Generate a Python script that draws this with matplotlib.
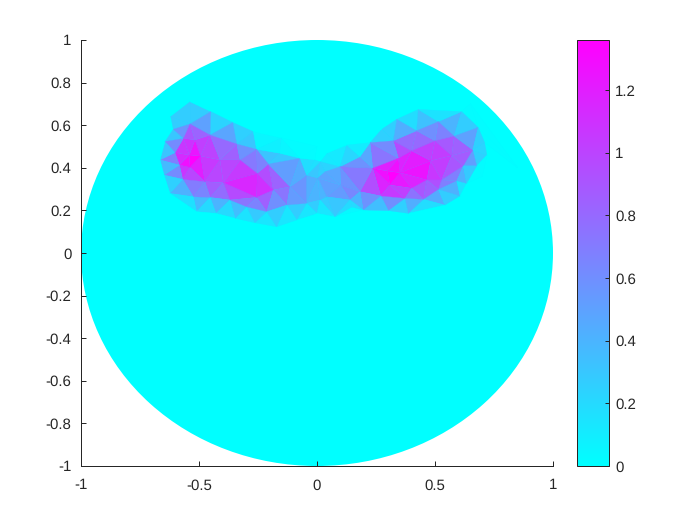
"""Flat shaded triangle mesh on the unit disk with a colorbar."""

import matplotlib
matplotlib.use("Agg")
import matplotlib.pyplot as plt
import matplotlib.tri as mtri
from matplotlib.patches import Circle

plt.rcParams["font.family"] = ["Liberation Sans", "DejaVu Sans"]
plt.rcParams["axes.unicode_minus"] = False
plt.rcParams["text.hinting"] = "none"

TEXT = "#262626"

# mesh nodes: (x, y, value)
left_x = [-0.538, -0.450, -0.357, -0.270, -0.538, -0.609, -0.644, -0.665, -0.648, -0.623,
          -0.602, -0.566, -0.517, -0.493, -0.538, -0.541, -0.569, -0.583, -0.453, -0.340,
          -0.256, -0.157, -0.072, 0.013, -0.206, -0.253, -0.397, -0.475, -0.369, -0.256,
          -0.114, -0.185, -0.298, -0.524, -0.453, -0.428, -0.347, -0.263, -0.213, -0.171,
          -0.086, -0.128, -0.017, -0.044, 0.013, 0.004, -0.044, -0.510, -0.411, -0.326]
left_y = [0.710, 0.664, 0.613, 0.570, 0.606, 0.581, 0.523, 0.437, 0.366, 0.280,
          0.471, 0.538, 0.531, 0.455, 0.402, 0.460, 0.346, 0.413, 0.554, 0.512,
          0.487, 0.468, 0.445, 0.429, 0.418, 0.374, 0.330, 0.335, 0.249, 0.261,
          0.311, 0.296, 0.217, 0.264, 0.261, 0.186, 0.163, 0.142, 0.194, 0.123,
          0.155, 0.225, 0.178, 0.233, 0.249, 0.352, 0.366, 0.194, 0.437, 0.437]
left_v = [0.00, 0.00, 0.00, 0.00, 0.80, 0.00, 0.00, 0.00, 0.00, 0.00,
          0.95, 0.90, 1.00, 1.36, 1.36, 1.36, 0.75, 1.10, 0.70, 0.75,
          0.15, 0.10, 0.05, 0.00, 0.70, 1.15, 1.15, 0.85, 0.60, 1.15,
          0.80, 1.00, 0.45, 0.50, 0.60, 0.00, 0.00, 0.00, 0.40, 0.00,
          0.00, 0.40, 0.00, 0.40, 0.40, 0.40, 0.50, 0.00, 0.95, 0.85]

right_x = [0.429, 0.338, 0.514, 0.613, 0.683, 0.660, 0.677, 0.634, 0.422, 0.323,
           0.500, 0.581, 0.401, 0.482, 0.571, 0.620, 0.345, 0.236, 0.352, 0.298,
           0.270, 0.309, 0.401, 0.465, 0.451, 0.514, 0.528, 0.592, 0.542, 0.606,
           0.100, 0.182, 0.225, 0.274, 0.126, 0.097, 0.041, -0.008, 0.034, 0.041,
           0.140, 0.196, 0.182, 0.302, 0.387, 0.373, 0.076, 0.000, 0.147]
right_y = [0.674, 0.628, 0.617, 0.664, 0.590, 0.484, 0.409, 0.327, 0.574, 0.527,
           0.527, 0.549, 0.480, 0.433, 0.457, 0.409, 0.445, 0.398, 0.377, 0.385,
           0.268, 0.319, 0.304, 0.343, 0.252, 0.299, 0.343, 0.339, 0.225, 0.268,
           0.319, 0.452, 0.518, 0.581, 0.507, 0.405, 0.468, 0.437, 0.382, 0.264,
           0.249, 0.202, 0.288, 0.199, 0.186, 0.257, 0.170, 0.186, 0.216]
right_v = [0.00, 0.00, 0.45, 0.00, 0.05, 0.70, 0.05, 0.00, 0.55, 0.75,
           0.80, 0.75, 1.05, 1.20, 1.10, 0.80, 1.10, 1.10, 1.36, 1.36,
           1.05, 1.36, 0.95, 1.20, 0.55, 0.80, 0.80, 0.45, 0.00, 0.00,
           0.70, 0.30, 0.00, 0.00, 0.00, 0.35, 0.00, 0.00, 0.35, 0.40,
           0.50, 0.00, 0.70, 0.00, 0.00, 0.75, 0.00, 0.00, 0.10]

# zero valued nodes around the two lobes
ring_x = [-0.65, -0.40, 0.00, 0.40, 0.65, 0.85, 0.85, 0.40, 0.00, -0.40, -0.85, -0.85,
          -0.62, -0.15, 0.00, 0.71, 0.72, 0.70]
ring_y = [0.70, 0.85, 0.62, 0.85, 0.70, 0.40, 0.05, 0.05, 0.00, 0.05, 0.05, 0.40,
          0.64, 0.54, 0.50, 0.52, 0.46, 0.36]
ring_v = [0.0] * len(ring_x)

v_min, v_max = 0.0, 1.36
x_ticks = [-1, -0.5, 0, 0.5, 1]
y_ticks = [-1, -0.8, -0.6, -0.4, -0.2, 0, 0.2, 0.4, 0.6, 0.8, 1]
cbar_ticks = [0, 0.2, 0.4, 0.6, 0.8, 1, 1.2]


def main():
    node_x = left_x + right_x + ring_x
    node_y = left_y + right_y + ring_y
    node_v = left_v + right_v + ring_v

    fig = plt.figure(figsize=(7, 5.25), dpi=100)
    ax = fig.add_axes([81 / 700, 1 - 466 / 525, 472 / 700, 426 / 525])
    cax = fig.add_axes([577 / 700, 1 - 466 / 525, 32 / 700, 426 / 525])

    disk = Circle((0, 0), 1, facecolor="#00ffff", edgecolor="none", zorder=1)
    ax.add_patch(disk)

    mesh = mtri.Triangulation(node_x, node_y)
    art = ax.tripcolor(mesh, node_v, shading="flat", cmap="cool", vmin=v_min, vmax=v_max,
                       edgecolors="face", linewidth=0.2, zorder=2)

    ax.set_xlim(-1, 1)
    ax.set_ylim(-1, 1)
    ax.set_xticks(x_ticks, [f"{t:g}" for t in x_ticks])
    ax.set_yticks(y_ticks, [f"{t:g}" for t in y_ticks])
    ax.spines["top"].set_visible(False)
    ax.spines["right"].set_visible(False)
    ax.tick_params(direction="in", length=3.4, width=0.72, color=TEXT, labelcolor=TEXT,
                   labelsize=10.8)
    ax.tick_params(axis="x", pad=9)
    ax.tick_params(axis="y", pad=7)
    for s in ax.spines.values():
        s.set_color(TEXT)
        s.set_linewidth(0.72)
        s.set_zorder(5)

    cbar = fig.colorbar(art, cax=cax)
    cbar.set_ticks(cbar_ticks, labels=[f"{t:g}" for t in cbar_ticks])
    cbar.ax.tick_params(direction="in", length=3, width=0.72, color=TEXT, labelcolor=TEXT,
                        labelsize=10.8, pad=4.5)
    cbar.outline.set_edgecolor(TEXT)
    cbar.outline.set_linewidth(0.72)

    fig.savefig("out.png", dpi=100)
    plt.close(fig)


if __name__ == "__main__":
    main()
